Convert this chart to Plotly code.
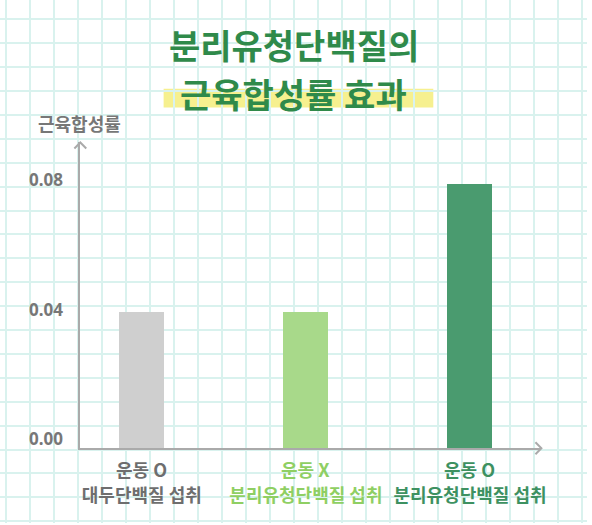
import plotly.graph_objects as go

# ============================================
# Data
# ============================================

exercise_labels = ["운동 O", "운동 X", "운동 O"]
protein_labels = ["대두단백질 섭취", "분리유청단백질 섭취", "분리유청단백질 섭취"]
synthesis_rate = [0.042, 0.042, 0.0815]
y_ticks = [0.00, 0.04, 0.08]

categories = [a + " / " + b for a, b in zip(exercise_labels, protein_labels)]

bar_colors = ["#cfcfcf", "#a8d98a", "#4a9b6f"]
label_colors = ["#6e6e6e", "#8fcf63", "#3d9161"]

# ============================================
# Layout (pixels of the 592x525 page)
# ============================================

W, H = 592, 525
left, right, top, bottom = 81, 546, 143, 450
px_per_unit = 130 / 0.04
cat_first, cat_last = 143, 474
cat_step = (cat_last - cat_first) / (len(categories) - 1)

font_family = "Noto Sans CJK KR"
title_green = "#2f8a4a"
axis_gray = "#aaaaaa"
text_gray = "#777777"

fig = go.Figure()

# background grid lives on the first (pixel) subplot so it stays behind bars
fig.add_trace(
    go.Scatter(x=[], y=[], xaxis="x", yaxis="y", showlegend=False)
)

fig.add_trace(
    go.Bar(
        x=categories,
        y=synthesis_rate,
        marker=dict(color=bar_colors, line=dict(width=0)),
        width=45 / cat_step,
        xaxis="x2",
        yaxis="y2",
        showlegend=False,
        hoverinfo="skip"
    )
)

# first line of each x label
for cat, text, color in zip(categories, exercise_labels, label_colors):
    fig.add_annotation(
        x=cat,
        y=0,
        xref="x2",
        yref="y2",
        text="<b>" + text + "</b>",
        showarrow=False,
        yanchor="middle",
        yshift=-21,
        font=dict(family=font_family, size=18, color=color)
    )

tick_text = [
    "<span style='color:%s'><b>%s</b></span>" % (c, t)
    for t, c in zip(protein_labels, label_colors)
]

fig.update_layout(

    width=W,
    height=H,

    margin=dict(l=0, r=0, t=0, b=0),

    paper_bgcolor="white",
    plot_bgcolor="rgba(0,0,0,0)",

    font=dict(family=font_family, color=text_gray),

    bargap=0,

    xaxis=dict(
        domain=[0, 1],
        range=[0, W],
        showgrid=True,
        gridcolor="#d9f2ee",
        gridwidth=1.5,
        tick0=6.4,
        dtick=24.2,
        showticklabels=False,
        zeroline=False,
        showline=False,
        fixedrange=True
    ),

    yaxis=dict(
        domain=[0, 1],
        range=[H, 0],
        showgrid=True,
        gridcolor="#d9f2ee",
        gridwidth=1.5,
        tick0=19.3,
        dtick=24,
        showticklabels=False,
        zeroline=False,
        showline=False,
        fixedrange=True
    ),

    xaxis2=dict(
        domain=[left / W, right / W],
        anchor="y2",
        range=[(left - cat_first) / cat_step,
               len(categories) - 1 + (right - cat_last) / cat_step],
        tickmode="array",
        tickvals=categories,
        ticktext=tick_text,
        tickfont=dict(family=font_family, size=18),
        ticks="",
        ticklabelstandoff=30,
        showgrid=False,
        showline=True,
        linecolor=axis_gray,
        linewidth=2,
        zeroline=False
    ),

    yaxis2=dict(
        domain=[(H - bottom) / H, (H - top) / H],
        anchor="x2",
        range=[0, (bottom - top) / px_per_unit],
        tickmode="array",
        tickvals=y_ticks,
        ticktext=["<b>%.2f</b>" % v for v in y_ticks],
        tickfont=dict(family="Noto Sans", size=17, color=text_gray),
        ticks="",
        ticklabelstandoff=12,
        ticklabelshift=-9,
        showgrid=False,
        showline=True,
        linecolor=axis_gray,
        linewidth=2,
        zeroline=False
    )

)

# ============================================
# Decorations: axis arrows, title highlight
# ============================================

fig.add_shape(
    type="path",
    path="M %d,%d L %d,%d L %d,%d" % (right - 6, bottom - 6, right, bottom, right - 6, bottom + 6),
    xref="x", yref="y",
    line=dict(color=axis_gray, width=2)
)

fig.add_shape(
    type="path",
    path="M %d,%d L %d,%d L %d,%d" % (left - 6, top + 6, left, top, left + 6, top + 6),
    xref="x", yref="y",
    line=dict(color=axis_gray, width=2)
)

fig.add_shape(
    type="rect",
    x0=165, x1=437, y0=89, y1=108,
    xref="x", yref="y",
    fillcolor="#f6f08f",
    line=dict(width=0),
    layer="below"
)

# ============================================
# Titles
# ============================================

fig.add_annotation(
    x=W / 2, y=45, xref="x", yref="y",
    text="<b>분리유청단백질의</b>",
    showarrow=False,
    yanchor="middle",
    font=dict(family=font_family, size=34, color=title_green, weight=900)
)

fig.add_annotation(
    x=W / 2, y=94, xref="x", yref="y",
    text="<b>근육합성률 효과</b>",
    showarrow=False,
    yanchor="middle",
    font=dict(family=font_family, size=34, color=title_green, weight=900)
)

fig.add_annotation(
    x=80, y=123, xref="x", yref="y",
    text="<b>근육합성률</b>",
    showarrow=False,
    font=dict(family=font_family, size=18, color=text_gray)
)

fig.write_html(
    "out.html",
    config={"displayModeBar": False},
    post_script="document.body.style.margin = '0';"
)
